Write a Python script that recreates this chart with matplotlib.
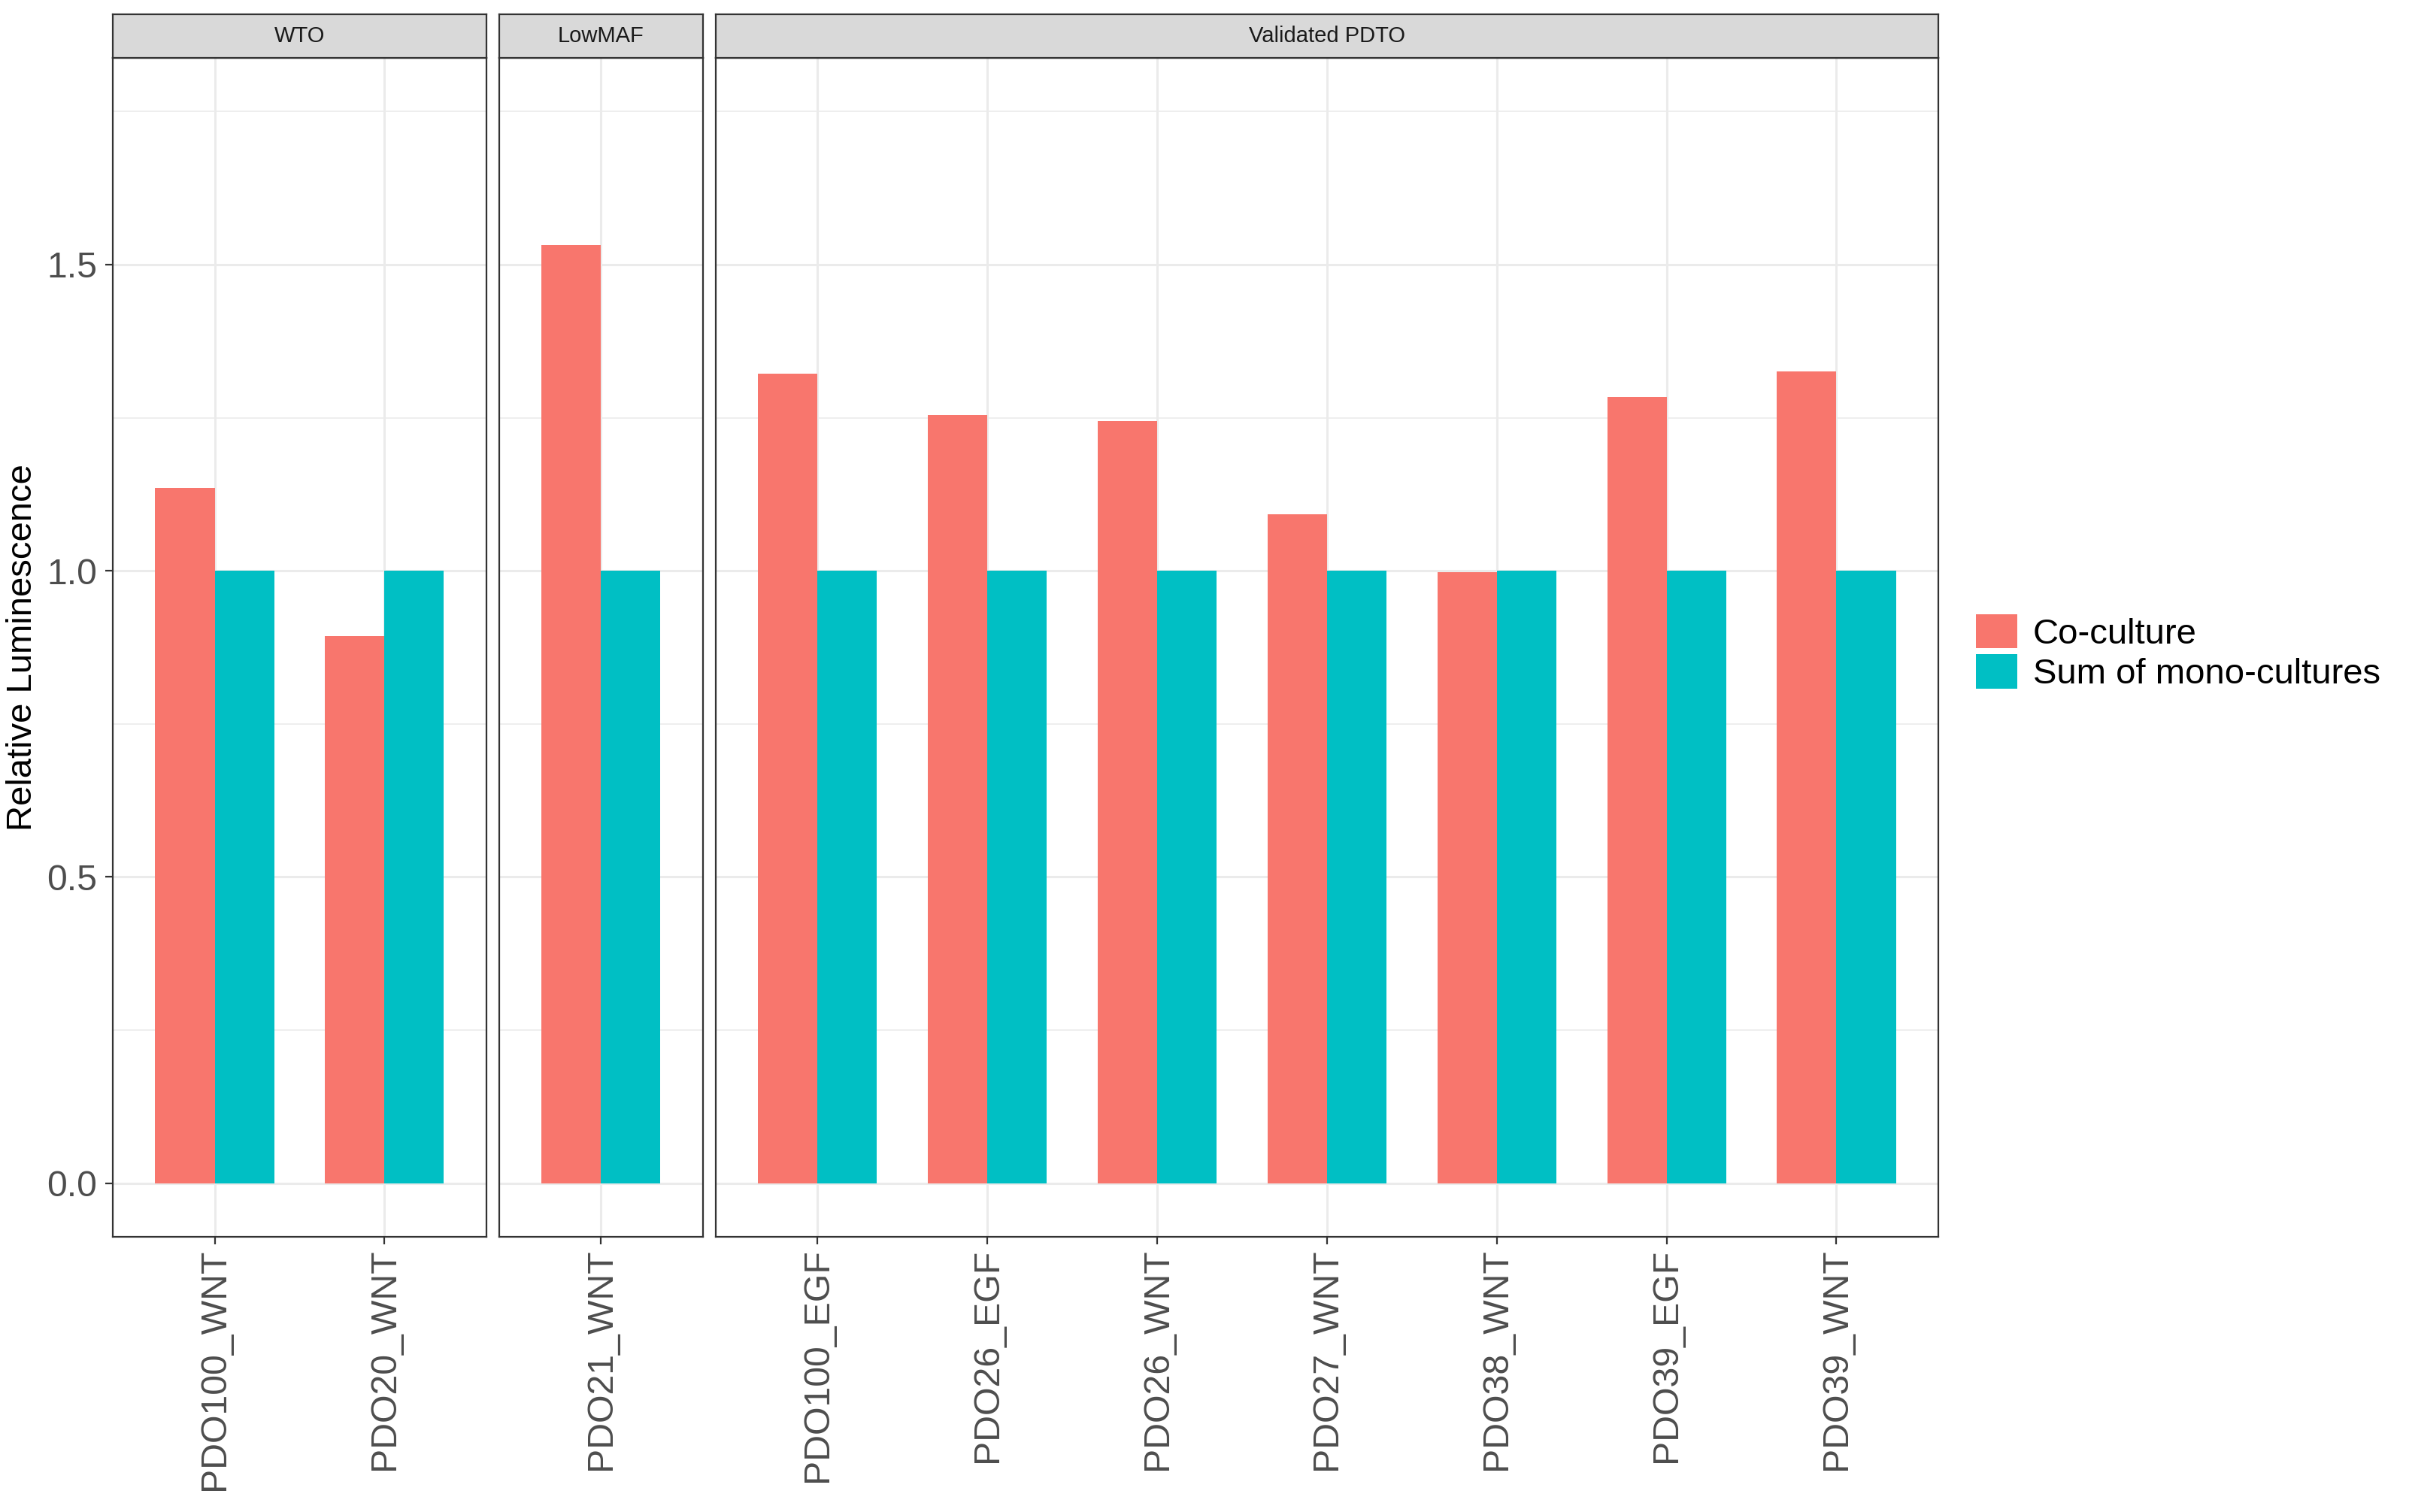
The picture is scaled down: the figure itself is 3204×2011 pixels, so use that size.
import numpy as np
import matplotlib
matplotlib.use("Agg")
import matplotlib.pyplot as plt
from matplotlib.patches import Patch

plt.rcParams['font.family'] = ['Liberation Sans', 'DejaVu Sans']

# data
groups = ["WTO", "LowMAF", "Validated PDTO"]
samples = ["PDO100_WNT", "PDO20_WNT",
           "PDO21_WNT",
           "PDO100_EGF", "PDO26_EGF", "PDO26_WNT", "PDO27_WNT",
           "PDO38_WNT", "PDO39_EGF", "PDO39_WNT"]
sample_group = ["WTO", "WTO",
                "LowMAF",
                "Validated PDTO", "Validated PDTO", "Validated PDTO", "Validated PDTO",
                "Validated PDTO", "Validated PDTO", "Validated PDTO"]
coculture = [1.135, 0.893, 1.532, 1.322, 1.254, 1.245, 1.092, 0.998, 1.284, 1.325]
mono_sum = [1.0, 1.0, 1.0, 1.0, 1.0, 1.0, 1.0, 1.0, 1.0, 1.0]

series_names = ["Co-culture", "Sum of mono-cultures"]
col_co, col_mono = "#F8766D", "#00BFC4"

W, H = 3204, 2011
DPI = 200
fig = plt.figure(figsize=(W / DPI, H / DPI), dpi=DPI)

# panel geometry in pixels (free x space, 0.6 expansion each side)
panel_left = 150
panel_right = 2578
gap = 17
panel_top, panel_bot = 77, 1645
strip_top = 19
units = [sum(g == grp for g in sample_group) - 1 + 1.2 for grp in groups]
px_per_unit = (panel_right - panel_left - gap * (len(groups) - 1)) / sum(units)

grid_c = "#EBEBEB"
border_c = "#333333"
tick_c = "#4D4D4D"
ylo, yhi = -0.0875, 1.8375

x0 = panel_left
for gi, grp in enumerate(groups):
    idx = [i for i, g in enumerate(sample_group) if g == grp]
    n = len(idx)
    w = units[gi] * px_per_unit
    ax = fig.add_axes([x0 / W, 1 - panel_bot / H, w / W, (panel_bot - panel_top) / H])
    sax = fig.add_axes([x0 / W, 1 - panel_top / H, w / W, (panel_top - strip_top) / H])
    x0 += w + gap

    pos = np.arange(n)
    ax.bar(pos - 0.175, [coculture[i] for i in idx], width=0.35, color=col_co, zorder=3)
    ax.bar(pos + 0.175, [mono_sum[i] for i in idx], width=0.35, color=col_mono, zorder=3)
    ax.set_xlim(-0.6, n - 1 + 0.6)
    ax.set_ylim(ylo, yhi)

    ax.set_yticks([0, 0.5, 1.0, 1.5])
    ax.set_yticks([0.25, 0.75, 1.25, 1.75], minor=True)
    ax.set_xticks(pos)
    ax.set_xticklabels([samples[i] for i in idx], rotation=90, fontsize=17.4,
                       color=tick_c, va='top', ha='center')
    ax.grid(True, which='major', color=grid_c, lw=1.1, zorder=0)
    ax.grid(True, which='minor', axis='y', color=grid_c, lw=0.6, zorder=0)
    ax.tick_params(axis='both', which='major', length=3.6, width=0.8, color=border_c, pad=2)
    ax.tick_params(axis='y', which='minor', length=0)
    ax.tick_params(axis='x', pad=2)
    if gi == 0:
        ax.set_yticklabels(["0.0", "0.5", "1.0", "1.5"], fontsize=17.4, color=tick_c)
        ax.tick_params(axis='y', pad=4)
    else:
        ax.tick_params(axis='y', which='major', length=0, labelleft=False)
    for s in ax.spines.values():
        s.set_color(border_c)
        s.set_linewidth(0.8)

    sax.set_facecolor("#D9D9D9")
    sax.set_xticks([])
    sax.set_yticks([])
    for s in sax.spines.values():
        s.set_color(border_c)
        s.set_linewidth(0.8)
    sax.text(0.5, 0.5, grp, ha='center', va='center', fontsize=10.5,
             color="#1A1A1A", transform=sax.transAxes)

fig.text(30 / W, 1 - 861 / H, "Relative Luminescence", rotation=90,
         ha='center', va='center', fontsize=17, color='black')

handles = [Patch(facecolor=col_co, edgecolor='none', label=series_names[0]),
           Patch(facecolor=col_mono, edgecolor='none', label=series_names[1])]
fig.legend(handles=handles, loc='center left',
           bbox_to_anchor=(2628 / W, 1 - 868 / H), frameon=False,
           fontsize=17, handlelength=1.16, handleheight=1.1,
           handletextpad=0.45, labelspacing=0.1, borderpad=0, borderaxespad=0)

fig.savefig("out.png", dpi=DPI)
